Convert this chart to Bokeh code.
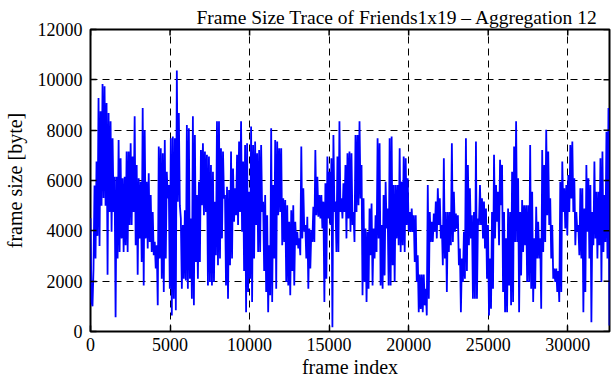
import numpy as np
from bokeh.plotting import figure
from bokeh.models import FixedTicker, Range1d
from bokeh.embed import file_html
from bokeh.resources import INLINE

title_text = "Frame Size Trace of Friends1x19 \u2013 Aggregation 12"
x_label = "frame index"
y_label = "frame size [byte]"
x_ticks = [0, 5000, 10000, 15000, 20000, 25000, 30000]
y_ticks = [0, 2000, 4000, 6000, 8000, 10000, 12000]
x_max = 32625
y_max = 12000
frames_per_sample = 63.1

frame_size = [
    4500, 1170, 1000, 2500, 5800, 2900, 6750, 3800, 9280, 3400, 8750, 5000, 9830, 5300, 9740, 5000,
    9080, 2260, 8680, 4750, 8350, 3960, 7680, 4750, 6150, 570, 6150, 2900, 7610, 3160, 6880, 3700,
    6090, 3160, 6150, 3430, 7150, 3160, 7150, 4230,
    7480, 4230, 6950, 4750, 8550, 3430, 6620, 2260, 6090, 3700, 5950, 2760, 8880, 1830, 8000, 3700,
    5950, 3300, 6290, 3560, 5420, 3160, 4750, 3030, 3560, 2500, 3430, 1040, 7350, 2900, 7280, 2100,
    7080, 1570, 7610, 2900, 6350, 5290, 5820, 1700, 7680, 640, 7750, 1300,
    7680, 840, 10370, 5160, 8680, 5020, 4490, 1700, 4230, 2100, 4820, 2030, 8210, 1700, 8080, 2100,
    4490, 1300, 8550, 1040, 7810, 2760, 5420, 2100, 5950, 2760, 7210, 5020, 7480, 4620, 7150, 4750,
    7020, 1830, 6950, 1970, 6620, 1830, 6350, 1970, 5160, 3030, 8350, 2630,
    8350, 2900, 7280, 3700, 7150, 5290, 5420, 1830, 5750, 1300, 5620, 2630, 7150, 2900, 6480, 4360,
    5690, 4620, 7020, 4230, 7550, 4750, 8350, 3960, 6750, 2400, 7410, 770, 7480, 1570, 5550, 2100,
    8150, 1170, 7410, 2900, 7550, 4230, 7080, 3160, 7210, 3160, 7410, 4750,
    5160, 2400, 5420, 1570, 4620, 770, 3430, 1440, 8080, 1170, 5820, 2900, 7610, 1700, 7550, 4620,
    7280, 4750, 7280, 3430, 5290, 3560, 5220, 1970, 5020, 1830, 4360, 1440, 4820, 2400, 5020, 1830,
    4360, 3430, 3960, 3300, 3700, 3030, 7350, 3700, 5690, 3960, 4230, 2900,
    4560, 1700, 4090, 2500, 4030, 3560, 4960, 3560, 7210, 4620, 6150, 4560, 5420, 4490, 5420, 4090,
    5160, 1170, 5890, 2100, 6950, 4490, 6350, 4230, 6880, 170, 7810, 4750, 5160, 3160, 6950, 3160,
    8350, 4750, 5290, 4490, 5890, 4750, 6620, 3700, 7080, 4490, 7150, 3960,
    7080, 4230, 4750, 3560, 7810, 4750, 7810, 5020, 8350, 5290, 6620, 1440, 5290, 1970, 4090, 1170,
    3960, 1700, 4890, 3030, 5090, 1830, 4090, 2900, 4620, 3160, 7680, 3700, 7480, 1830, 4230, 1700,
    5420, 2230, 5950, 4090, 4890, 1830, 7680, 1830, 7750, 2630, 5820, 1970,
    5820, 3700, 5820, 3430, 7280, 3160, 5950, 3430, 6950, 3160, 6880, 4230, 6090, 3960, 4750, 3960,
    4890, 3960, 4620, 2760, 4620, 1970, 3030, 770, 2260, 900, 2260, 770, 2260, 1040, 1700, 640,
    5820, 1300, 4750, 3560, 4360, 3560, 4690, 3960, 5160, 3700, 5690, 4230,
    5290, 3700, 4230, 2630, 6880, 2900, 4750, 1570, 4750, 3160, 4750, 3430, 7480, 3560, 5550, 3960,
    4690, 4090, 4620, 2630, 3300, 770, 2900, 1970, 3960, 2100, 7680, 2400, 6620, 3430, 5690, 3700,
    4620, 1300, 4750, 1300, 7550, 1300, 4490, 4230, 5820, 4230, 5290, 3700,
    5160, 3300, 4890, 2100, 4230, 640, 2900, 900, 4750, 1700, 7020, 3700, 5820, 4360, 5550, 3430,
    6820, 5020, 6620, 1570, 4750, 770, 3700, 770, 4890, 1830, 4750, 1040, 6350, 1170, 7350, 3560,
    8350, 3560, 6090, 770, 4750, 2230, 5220, 3160, 5020, 3430, 5020, 1970,
    5020, 1970, 7410, 1700, 5550, 1170, 3700, 1700, 4960, 2900, 4360, 2900, 3700, 900, 7210, 3160,
    6620, 3560, 8020, 4620, 7150, 4230, 5290, 2900, 4230, 2100, 2500, 1970, 2500, 1570, 2400, 1170,
    5950, 1570, 6750, 4750, 5690, 4090, 5820, 3830, 6220, 4750, 7410, 5290,
    7550, 4750, 6090, 3430, 4750, 3960, 4230, 3030, 5690, 2900, 5690, 770, 4890, 1570, 6620, 3960,
    6090, 2900, 5820, 370, 4750, 3430, 6750, 3700, 5550, 2900, 5550, 3430, 6880, 1970, 7150, 3160,
    5420, 3560, 7940, 2900, 8880, 240,
]
frame_index = np.arange(len(frame_size)) * frames_per_sample

FONT = "Liberation Serif"

p = figure(width=611, height=380, output_backend="svg", toolbar_location=None,
           x_range=Range1d(0, x_max), y_range=Range1d(0, y_max),
           min_border_left=90, min_border_right=2, min_border_top=29, min_border_bottom=49,
           background_fill_color="white", border_fill_color="white")

p.title.text = title_text
p.title.text_font = FONT
p.title.text_font_size = "19.5px"
p.title.text_font_style = "normal"
p.title.text_color = "black"
p.title.align = "left"
p.title.offset = 106
p.title.standoff = 4

# grid
for g, ticks in ((p.xgrid[0], x_ticks), (p.ygrid[0], y_ticks)):
    g.ticker = FixedTicker(ticks=ticks)
    g.grid_line_color = "black"
    g.grid_line_dash = "7 5"
    g.grid_line_width = 1
    g.grid_line_alpha = 1

p.line(frame_index, frame_size, line_color="#0000ff", line_width=1.8)

# mirrored inward ticks on the top and right edges
p.ray(x=x_ticks, y=[y_max] * len(x_ticks), length=6, length_units="screen",
      angle=-np.pi / 2, line_color="black", line_width=1.5)
p.ray(x=[x_max] * len(y_ticks), y=y_ticks, length=6, length_units="screen",
      angle=np.pi, line_color="black", line_width=1.5)

p.outline_line_color = "black"
p.outline_line_width = 2
p.outline_line_alpha = 1

for ax, ticks in ((p.xaxis[0], x_ticks), (p.yaxis[0], y_ticks)):
    ax.ticker = FixedTicker(ticks=ticks)
    ax.major_tick_in = 6
    ax.major_tick_out = 0
    ax.minor_tick_in = 0
    ax.minor_tick_out = 0
    ax.major_tick_line_color = "black"
    ax.major_tick_line_width = 1.5
    ax.axis_line_color = None
    ax.major_label_text_font = FONT
    ax.major_label_text_font_size = "18px"
    ax.major_label_text_color = "black"
    ax.axis_label_text_font = FONT
    ax.axis_label_text_font_size = "20px"
    ax.axis_label_text_font_style = "normal"
    ax.axis_label_text_color = "black"

p.xaxis[0].axis_label = x_label
p.xaxis[0].major_label_standoff = 6
p.xaxis[0].axis_label_standoff = 2
p.yaxis[0].axis_label = y_label
p.yaxis[0].major_label_standoff = 8
p.yaxis[0].axis_label_standoff = 9

open("out.html", "w").write(file_html(p, INLINE))
